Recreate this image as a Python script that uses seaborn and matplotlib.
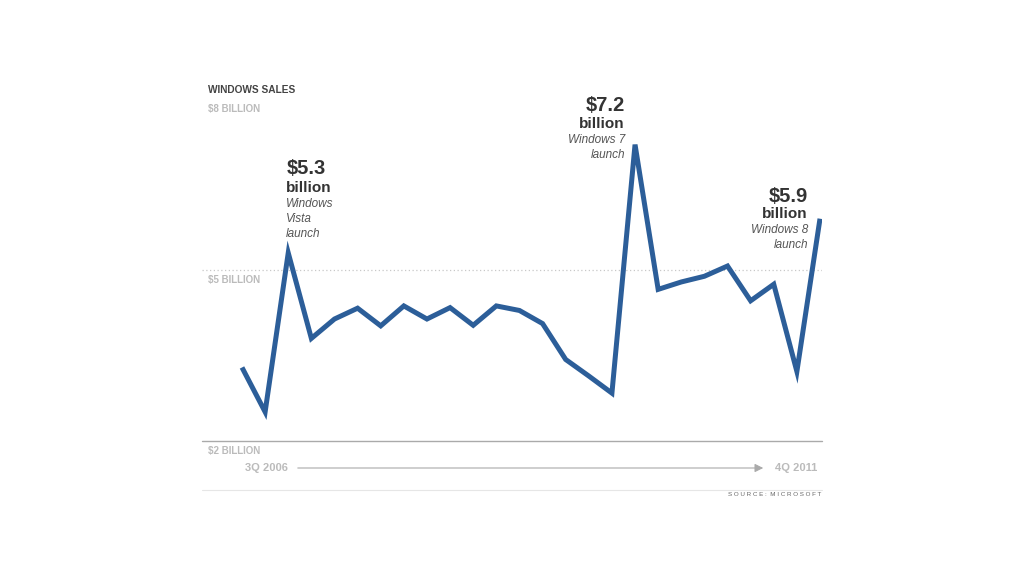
import matplotlib
matplotlib.use("Agg")
import matplotlib.pyplot as plt
import seaborn as sns
import pandas as pd
import numpy as np

# ---- data ----
quarters = list(range(26))
sales = [3.29, 2.51, 5.3, 3.80, 4.14, 4.33, 4.02, 4.37, 4.14, 4.34, 4.03, 4.37,
         4.29, 4.06, 3.43, 3.14, 2.84, 7.2, 4.66, 4.79, 4.89, 5.07, 4.46, 4.75,
         3.22, 5.9]
ytick_vals = [8, 5, 2]
ytick_labels = ["$8 BILLION", "$5 BILLION", "$2 BILLION"]
start_label = "3Q 2006"
end_label = "4Q 2011"
title = "WINDOWS SALES"
source = "SOURCE: MICROSOFT"
annotations = [
    (2, "$5.3", "billion", ["Windows", "Vista", "launch"], "left"),
    (17, "$7.2", "billion", ["Windows 7", "launch"], "right"),
    (25, "$5.9", "billion", ["Windows 8", "launch"], "right"),
]

df = pd.DataFrame({"q": quarters, "sales": sales})

sns.set_style("white")
plt.rcParams["font.family"] = ["Liberation Sans", "DejaVu Sans"]

W, H = 1024, 576
fig = plt.figure(figsize=(W / 100, H / 100), dpi=100)

def fx(px):
    return px / W

def fy(py):
    return 1 - py / H

# axes spans pixel x 202..822, y 99..441
ax = fig.add_axes([fx(202), fy(441), fx(822) - fx(202), fy(99) - fy(441)])
sns.lineplot(data=df, x="q", y="sales", ax=ax, color="#2c5e99", linewidth=3.6)
for ln in ax.lines:
    ln.set_solid_joinstyle("miter")
    ln.set_solid_capstyle("butt")

step = (820 - 242) / 25
ax.set_xlim(-40 / step, 25 + 2 / step)
ax.set_ylim(2, 8)
ax.axis("off")
ax.axhline(5, color="#c8c8c8", linestyle=(0, (1, 2)), linewidth=0.9, zorder=0)
ax.axhline(2, color="#aaaaaa", linewidth=1.0, zorder=0, clip_on=False)

grey = "#bbbbbb"
# y labels
for v, lab in zip(ytick_vals, ytick_labels):
    ax.annotate(lab, xy=(0, v), xycoords=("axes fraction", "data"),
                xytext=(6, -10), textcoords="offset pixels",
                ha="left", va="center", fontsize=7, fontweight="bold", color=grey)

fig.text(fx(208), fy(90), title, ha="left", va="center", fontsize=7.3,
         fontweight="bold", color="#444444")

# annotations
for idx, big, mid, small, side in annotations:
    if side == "left":
        dx = -2
        ha = "left"
    else:
        dx = -10 if idx == 17 else -12
        ha = "right"
    y0 = sales[idx]
    # offsets in pixels above the point
    if idx == 2:
        offs = (84, 65)
    elif idx == 17:
        offs = (39, 21)
    else:
        offs = (22, 5)
    ax.annotate(big, xy=(idx, y0), xytext=(dx, offs[0]), textcoords="offset pixels",
                ha=ha, va="center", fontsize=14.5, fontweight="bold", color="#333333")
    ax.annotate(mid, xy=(idx, y0), xytext=(dx, offs[1]), textcoords="offset pixels",
                ha=ha, va="center", fontsize=11, fontweight="bold", color="#333333")
    for k, s in enumerate(small):
        ax.annotate(s, xy=(idx, y0), xytext=(dx, offs[1] - 16 - 15 * k),
                    textcoords="offset pixels", ha=ha, va="center",
                    fontsize=8.5, fontstyle="italic", color="#555555")

# time arrow
fig.text(fx(288), fy(468), start_label, ha="right", va="center", fontsize=8,
         fontweight="bold", color=grey)
fig.text(fx(775), fy(468), end_label, ha="left", va="center", fontsize=8,
         fontweight="bold", color=grey)
fig.add_artist(matplotlib.patches.FancyArrowPatch(
    (fx(295), fy(468)), (fx(766), fy(468)), transform=fig.transFigure,
    arrowstyle="-|>,head_length=5,head_width=2.5", color="#aaaaaa",
    linewidth=0.8, mutation_scale=1))

# footer
fig.add_artist(matplotlib.lines.Line2D([fx(202), fx(822)], [fy(490), fy(490)],
                                       transform=fig.transFigure, color="#e6e6e6",
                                       linewidth=0.8))
fig.text(fx(821), fy(495), " ".join(source).replace("   ", "  "), ha="right", va="center",
         fontsize=4.5, color="#666666")

fig.savefig("out.png", dpi=100, facecolor="white")
